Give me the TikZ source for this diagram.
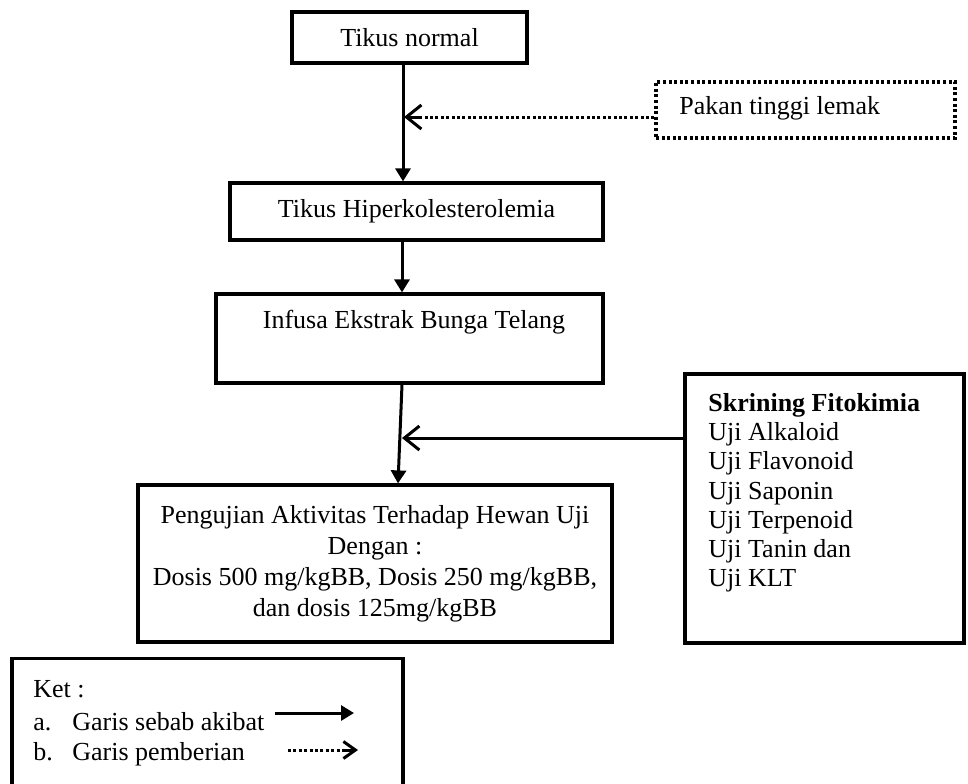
\documentclass[tikz,border=0pt]{standalone}
\usepackage{fontspec}
\setmainfont{Liberation Serif}
\usetikzlibrary{arrows.meta}
\begin{document}
\begin{tikzpicture}[x=0.5pt,y=-0.5pt,
  box/.style={draw, line width=1.6pt, inner sep=0pt, align=center, font=\fontsize{13}{15.5}\selectfont},
  dotbox/.style={draw, line width=1.6pt, dash pattern=on 1.5pt off 1.3pt, inner sep=0pt},
  txt/.style={inner sep=0pt, font=\fontsize{13}{15.5}\selectfont},
  solidarrow/.style={line width=1.5pt, -{Triangle[length=6.5pt,width=7.5pt]}},
  openarrow/.style={line width=1.5pt, -{Straight Barb[length=7.5pt,width=12pt,line width=1.5pt]}},
  smallopen/.style={line width=1.5pt, -{Straight Barb[length=6pt,width=8.5pt,line width=1.5pt]}},
  dotline/.style={line width=1.5pt, dash pattern=on 1.5pt off 1.2pt},
]
\useasboundingbox (0,0) rectangle (968,783);
\clip (0,0) rectangle (968,783);

% boxes
\node[box, minimum width=117.5pt, minimum height=25.5pt] (b1) at (409.5,37.5) {Tikus normal};
\node[dotbox, minimum width=149.5pt, minimum height=28pt] (pk) at (805.5,110) {};
\node[txt, anchor=west] (pktxt) at (679,108) {Pakan tinggi lemak};
\node[box, minimum width=186.5pt, minimum height=28.5pt] (b2) at (416.5,211.5) {Tikus Hiperkolesterolemia};
\node[box, minimum width=193.5pt, minimum height=44.5pt] (b3) at (409.5,338.5) {};
\node[txt] (b3txt) at (414,322) {Infusa Ekstrak Bunga Telang};
\node[box, minimum width=237pt, minimum height=78.5pt] (b4) at (375,563.5)
  {Pengujian Aktivitas Terhadap Hewan Uji\\Dengan :\\Dosis 500 mg/kgBB, Dosis 250 mg/kgBB,\\dan dosis 125mg/kgBB};
\node[box, minimum width=139.5pt, minimum height=134.5pt] (sk) at (824.5,508.5) {};
\node[txt, anchor=north west, align=left, font=\fontsize{13}{14.6}\selectfont] (sktxt) at (708,393)
  {\textbf{Skrining Fitokimia}\\Uji Alkaloid\\Uji Flavonoid\\Uji Saponin\\Uji Terpenoid\\Uji Tanin dan\\Uji KLT};
\node[box, minimum width=195.5pt, minimum height=75pt] (leg) at (207.5,733.5) {};

% legend text
\node[txt, anchor=base west] (ket) at (33,697) {Ket :};
\node[txt, anchor=base west] (la) at (33,730) {a.};
\node[txt, anchor=base west] (lat) at (72,730) {Garis sebab akibat};
\node[txt, anchor=base west] (lb) at (33,760) {b.};
\node[txt, anchor=base west] (lbt) at (72,760) {Garis pemberian};

% coordinates
\coordinate (x1) at (403,0);
\coordinate (x2) at (402,0);
\coordinate (x3a) at (402,0);
\coordinate (x3b) at (398,0);
\coordinate (d1) at (404,117);
\coordinate (y1) at (0,117);
\coordinate (s1) at (402,438);
\coordinate (y2) at (0,438);
\coordinate (la1) at (275,713);
\coordinate (la2) at (354,713);
\coordinate (lb1) at (288,750);
\coordinate (lb2) at (358,750);

% connectors
\draw[solidarrow] (b1.south -| x1) -- (b2.north -| x1);
\draw[dotline] (pk.west |- y1) -- ([xshift=7pt]d1);
\draw[openarrow] ([xshift=8pt]d1) -- (d1);
\draw[solidarrow] (b2.south -| x2) -- (b3.north -| x2);
\draw[solidarrow] (b3.south -| x3a) -- (b4.north -| x3b);
\draw[openarrow] (sk.west |- y2) -- (s1);

% legend arrows
\draw[solidarrow] (la1) -- (la2);
\draw[dotline] (lb1) -- ([xshift=-6pt]lb2);
\draw[smallopen] ([xshift=-6.5pt]lb2) -- (lb2);
\end{tikzpicture}
\end{document}
